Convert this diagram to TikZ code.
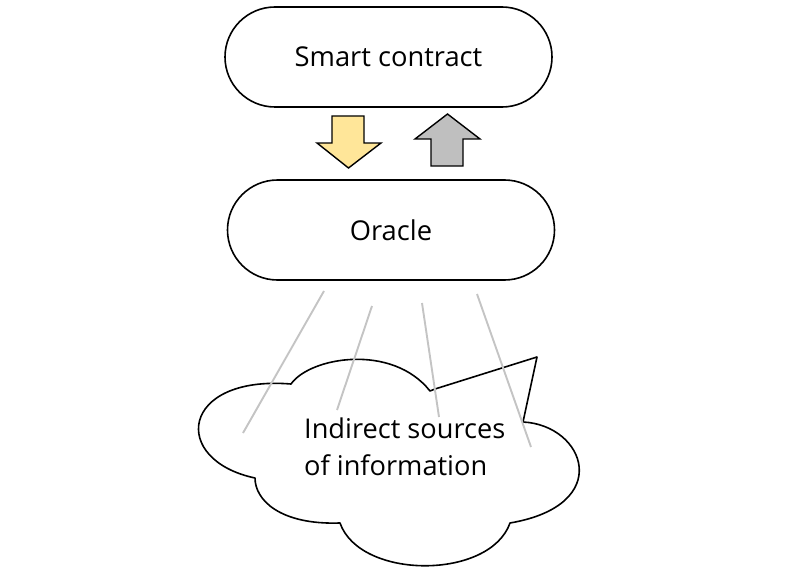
\documentclass[tikz,border=0pt]{standalone}
\usepackage{fontspec}
\setmainfont{Open Sans}
\usepackage{xcolor}
\usetikzlibrary{positioning}
\definecolor{pushyellow}{HTML}{FFE699}
\definecolor{pullgray}{HTML}{BFBFBF}
\definecolor{raygray}{HTML}{C4C4C4}

\tikzset{
  pill/.style={draw=black, line width=1.6pt, fill=white, rounded corners=50pt,
    minimum width=327pt, minimum height=100pt, font=\fontsize{27.3}{32}\selectfont},
  blockarrow/.style={draw=black, line width=1.4pt, line join=miter},
  ray/.style={draw=raygray, line width=1.9pt}
}

\begin{document}
\begin{tikzpicture}[x=1pt, y=-1pt]
  \useasboundingbox (0,0) rectangle (800,575);

  % the two parties
  \node[pill] (contract) at (388.5,57) {Smart contract};
  \node[pill] (oracle) at (391,230) {Oracle};

  % data flowing down and requests going up
  \draw[blockarrow, fill=pushyellow] (332,116) -- (364,116) -- (364,143) -- (381,143)
    -- (348.5,168) -- (317,143) -- (332,143) -- cycle;
  \draw[blockarrow, fill=pullgray] (431,166) -- (463,166) -- (463,139) -- (480,139)
    -- (447.5,114) -- (415,139) -- (431,139) -- cycle;

  % cloud of outside sources
  \draw[line width=1.6pt, fill=white, line join=round]
    (291,384) .. controls (310,357) and (392,343) .. (430,391)
    -- (435,389) -- (537,357) -- (523,422)
    .. controls (585,425) and (615,505) .. (510,523)
    .. controls (490,580) and (360,580) .. (340,523)
    .. controls (280,525) and (255,500) .. (255,478)
    .. controls (170,460) and (180,375) .. (291,384) -- cycle;
  \node[align=left, anchor=north west, inner sep=0pt,
        font=\fontsize{27.2}{37}\selectfont] (sources) at (304,418)
    {Indirect sources\\of information};

  % rays from the oracle into the cloud
  \coordinate (r1a) at (324,291); \coordinate (r1b) at (243,433);
  \coordinate (r2a) at (372,306); \coordinate (r2b) at (337,410);
  \coordinate (r3a) at (422,303); \coordinate (r3b) at (439,417);
  \coordinate (r4a) at (477,294); \coordinate (r4b) at (531,447);
  \foreach \i in {1,...,4}
    \draw[ray] (r\i a) -- (r\i b);
\end{tikzpicture}
\end{document}
